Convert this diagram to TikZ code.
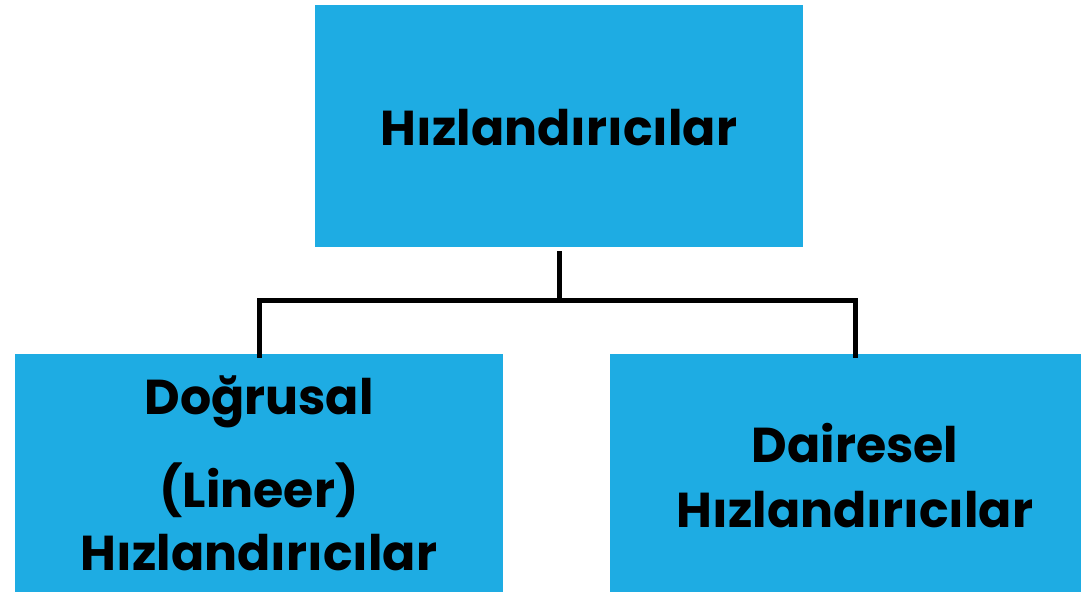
\documentclass[tikz,border=0pt]{standalone}
\usepackage{fontspec}
\setmainfont{Poppins}
\definecolor{boxblue}{RGB}{30,172,227}
\tikzset{
  box/.style={fill=boxblue, draw=none, inner sep=0pt},
  lbl/.style={font=\fontsize{49}{58}\selectfont\bfseries, text=black, inner sep=0pt, anchor=base},
  link/.style={draw=black, line width=5pt}
}
\begin{document}
\begin{tikzpicture}[x=1pt,y=-1pt]
\useasboundingbox (0,0) rectangle (1081,592);
\node[box, minimum width=488, minimum height=242] (top) at (559,126) {};
\node[box, minimum width=488, minimum height=238] (lin) at (259,473) {};
\node[box, minimum width=471, minimum height=238] (cir) at (845.5,473) {};
\node[lbl] (t1) at (559,145) {Hızlandırıcılar};
\node[lbl] (l1) at (259,414) {Doğrusal};
\node[lbl] (l2) at (259,507) {(Lineer)};
\node[lbl] (l3) at (259,570) {Hızlandırıcılar};
\node[lbl] (c1) at (855,462) {Dairesel};
\node[lbl] (c2) at (855,527) {Hızlandırıcılar};
\coordinate (j) at (559,300);
\coordinate (jl) at (259,300);
\coordinate (jr) at (855,300);
\draw[link] ([yshift=-4pt]top.south) -- (j);
\draw[link] ([yshift=-4pt]lin.north -| jl) -- (jl) -- (jr) -- ([yshift=-4pt]cir.north -| jr);
\end{tikzpicture}
\end{document}
